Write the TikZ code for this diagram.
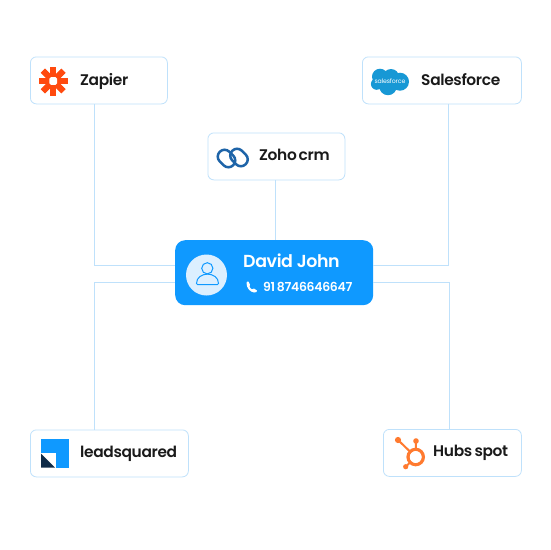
\documentclass[tikz,border=0pt]{standalone}
\usepackage{fontspec}
\setmainfont{Poppins}[BoldFont={Poppins SemiBold},LetterSpace=-2.2]
\definecolor{edge}{HTML}{BFE1FB}
\definecolor{ink}{HTML}{1A1A1A}
\definecolor{brand}{HTML}{0F99FF}
\definecolor{pale}{HTML}{DCEFFF}
\definecolor{zap}{HTML}{FF4A0F}
\definecolor{sf}{HTML}{1798D5}
\definecolor{zoho}{HTML}{1E64A8}
\definecolor{hub}{HTML}{FF7A2F}
\definecolor{navy}{HTML}{0E2A47}
\tikzset{
  card/.style={draw=edge,line width=0.8pt,rounded corners=6pt,fill=white,inner sep=0pt,anchor=north west},
  wire/.style={draw=edge,line width=0.8pt},
  label/.style={font=\bfseries\fontsize{15.4}{15}\selectfont,text=ink,anchor=base west,inner sep=0pt},
}
\begin{document}
\begin{tikzpicture}[x=1pt,y=-1pt]
\useasboundingbox (0,0) rectangle (550,550);
\fill[white] (0,0) rectangle (550,550);
% cards
\node[card,minimum width=137pt,minimum height=47pt] (zapier) at (30,56.5) {};
\node[card,minimum width=159pt,minimum height=47pt] (salesforce) at (362,56.5) {};
\node[card,minimum width=137pt,minimum height=47pt] (zohocrm) at (207.5,132.5) {};
\node[card,minimum width=158pt,minimum height=47pt] (leadsq) at (30,429.5) {};
\node[card,minimum width=138pt,minimum height=47pt] (hubspot) at (383,429) {};
\node[draw=none,fill=brand,rounded corners=10pt,minimum width=198pt,minimum height=65pt,inner sep=0pt,anchor=north west] (david) at (175,240) {};
% connector routing
\coordinate (tl) at (94,265);
\coordinate (tr) at (448,265);
\coordinate (bl) at (94,282.5);
\coordinate (br) at (449,282.5);
\coordinate (mid) at (275,200);
\draw[wire] (zapier.south -| tl) |- (david.west |- tl);
\draw[wire] (salesforce.south -| tr) |- (david.east |- tr);
\draw[wire] (leadsq.north -| bl) |- (david.west |- bl);
\draw[wire] (hubspot.north -| br) |- (david.east |- br);
\draw[wire] (zohocrm.south -| mid) -- (david.north -| mid);
% Zapier logo
\begin{scope}[shift={(53.2,81)}]
  \foreach \a in {0,45,...,315}
    \fill[zap,rotate=\a] (-2.9,-14.5) rectangle (2.9,14.5);
  \fill[white,rounded corners=1.5pt] (-3.8,-3.8) rectangle (3.8,3.8);
\end{scope}
\node[label] (tzapier) at (80,85) {Zapier};
% Salesforce logo
\fill[sf] (380,76.7) circle (8) (391,77) circle (8) (400,81.7) circle (9)
   (388,86.5) circle (8.7) (376.7,84) circle (5.8) (384,81) circle (8);
\node[font=\fontsize{6.2}{6}\selectfont,text=white,inner sep=0pt] (tsfsmall) at (390,81.5) {salesforce};
\node[label] (tsf) at (421,85) {Salesforce};
% Zoho logo
\draw[zoho,line width=2.5pt,rounded corners=6.7pt,rotate around={-45:(226.5,158.5)}] (217,151.7) rectangle (236,165.3);
\draw[zoho,line width=2.5pt,rounded corners=6.7pt,rotate around={-45:(239,157.5)}] (229.5,150.7) rectangle (248.5,164.3);
\node[label] (tzoho) at (259,160.7) {Zoho\kern-1pt\ \kern-0.5pt crm};
% centre
\fill[pale] (206.5,275) circle (20.5);
\draw[brand,line width=1pt] (207.3,268.3) circle (5.6);
\draw[brand,line width=1pt,rounded corners=1pt] (196.5,284.5) .. controls (196.5,271) and (218.5,271) .. (218.5,284.5) -- cycle;
\node[font=\fontsize{17.4}{17}\selectfont\bfseries,text=white,anchor=base west,inner sep=0pt] (tdavid) at (243,267) {David John};
\node[font=\fontsize{12.4}{12}\selectfont\bfseries,text=white,anchor=base west,inner sep=0pt] (tphone) at (263,291.5) {91\kern-0.5pt\ \kern-0.5pt 8746646647};
\fill[white] (246.5,283) .. controls (246,281.5) and (248,281) .. (248.5,281.5) -- (250,284.5)
  .. controls (250,285.5) and (249,285.5) .. (249.5,286.5) .. controls (250,288) and (251,289) .. (252,289.3)
  .. controls (253,289.5) and (253,288.5) .. (254,288.5) -- (257,290.5)
  .. controls (257.5,291.5) and (256,293) .. (254,292.5) .. controls (250,292) and (246.5,288) .. (246.5,283) -- cycle;
% leadsquared
\fill[brand] (41,439) rectangle (69,467.7);
\fill[white] (41,453) rectangle (55.7,467.7);
\fill[navy] (41,453.5) -- (41,467.7) -- (55,467.7) -- cycle;
\node[label] (tlead) at (80,457.5) {leadsquared};
% hubspot
\draw[hub,line width=3.4pt] (415.7,457) circle (7.6);
\draw[hub,line width=2pt] (398,440) -- (415.7,457);
\draw[hub,line width=2pt] (416,441) -- (415.7,450);
\draw[hub,line width=2pt] (405.7,466.7) -- (415.7,457);
\fill[hub] (398,440) circle (3.1) (416,441) circle (2.8) (405.7,466.7) circle (2.6);
\fill[white] (415.7,457) circle (5.9);
\node[label] (thub) at (433,456.7) {Hubs\kern-0.5pt\ \kern-0.5pt spot};
\end{tikzpicture}
\end{document}
